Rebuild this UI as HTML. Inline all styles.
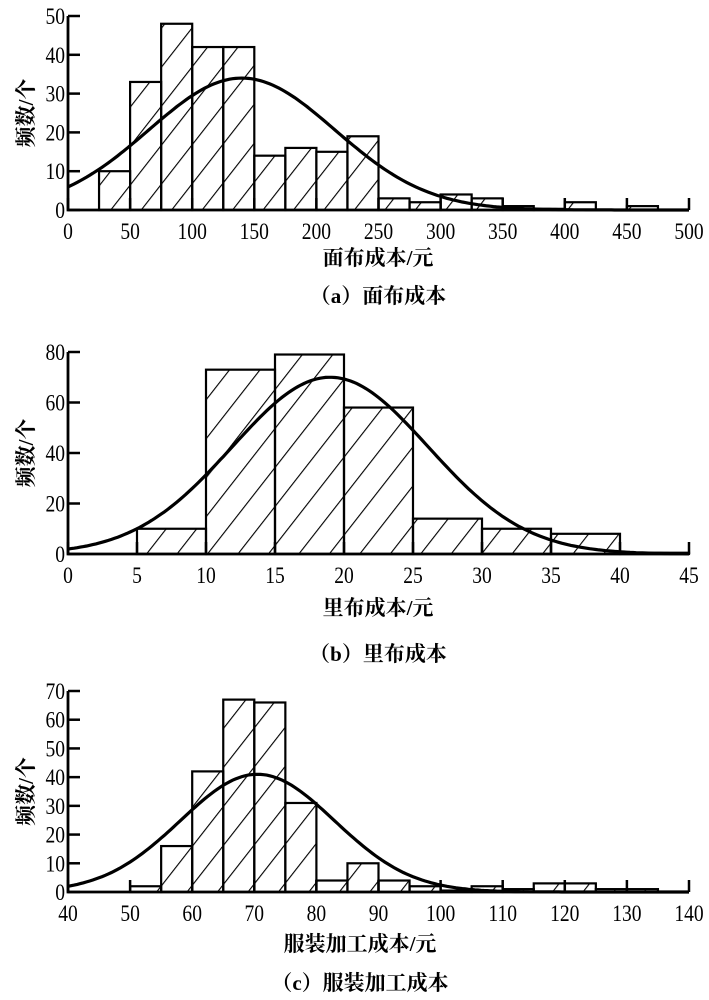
<!DOCTYPE html>
<html><head><meta charset="utf-8"><style>
body{margin:0;background:#fff}
svg{display:block}
text{font-family:"Liberation Serif","Noto Serif CJK SC",serif;fill:#000}
.cjk{font-family:"Liberation Serif","Noto Serif CJK SC","Noto Sans CJK SC",serif;font-weight:bold}
</style></head><body>
<svg id="chart" width="709" height="1000" viewBox="0 0 709 1000">
<defs>
<pattern id="hatch" patternUnits="userSpaceOnUse" width="30" height="24" patternTransform="rotate(-52)">
<line x1="0" y1="0" x2="30" y2="0" stroke="#000" stroke-width="2.2"/>
</pattern>
</defs>
</svg>
<script>
// Panel (a)
const aEdgesStart = [25,50,75,100,125,150,175,200,225,250,275,300,325,350,375,400,425,450,475];
const aCounts = [10,33,48,42,42,14,16,15,19,3,2,4,3,1,0.3,2,0,1,0];
const aXTicks = [0,50,100,150,200,250,300,350,400,450,500];
const aYTicks = [0,10,20,30,40,50];
const aCurve = [140,75,34]; // mean, sd, peak
// Panel (b)
const bEdgesStart = [5,10,15,20,25,30,35,40];
const bCounts = [10,73,79,58,14,10,8,0.5];
const bXTicks = [0,5,10,15,20,25,30,35,40,45];
const bYTicks = [0,20,40,60,80];
const bCurve = [19,7.1,70];
// Panel (c)
const cEdgesStart = [50,55,60,65,70,75,80,85,90,95,100,105,110,115,120,125,130];
const cCounts = [2,16,42,67,66,31,4,10,4,2,0.5,2,1,3,3,1,1];
const cXTicks = [40,50,60,70,80,90,100,110,120,130,140];
const cYTicks = [0,10,20,30,40,50,60,70];
const cCurve = [70.5,12.4,41];

const NS="http://www.w3.org/2000/svg";
const svg=document.getElementById('chart');
function mk(t,a,p){const e=document.createElementNS(NS,t);for(const k in a)e.setAttribute(k,a[k]);(p||svg).appendChild(e);return e;}

function panel(id,opt){
  const g=mk('g',{});
  
  
  const X0=68,X1=689;
  const sx=v=>X0+(v-opt.xmin)/(opt.xmax-opt.xmin)*(X1-X0);
  const sy=v=>opt.y0+(v-opt.ymin)/(opt.ymax-opt.ymin)*(opt.ytop-opt.y0);
  opt.starts.forEach((s,i)=>{
    const x=sx(s),w=sx(s+opt.bw)-x,y=sy(opt.counts[i]),h=opt.y0-y;
    const r=mk('rect',{x:x,y:y,width:w,height:h,fill:'url(#hatch)',stroke:'#000','stroke-width':2.2},g);
    
    
  });
  let d='';
  for(let k=0;k<=200;k++){const v=opt.xmin+(opt.xmax-opt.xmin)*k/200;
    const yv=opt.curve[2]*Math.exp(-Math.pow(v-opt.curve[0],2)/(2*opt.curve[1]*opt.curve[1]));
    d+=(k?'L':'M')+sx(v).toFixed(1)+','+sy(yv).toFixed(1);}
  const c=mk('path',{d:d,fill:'none',stroke:'#000','stroke-width':3.2},g);
  
  
  const ax=mk('path',{d:`M${X0},${sy(opt.yTicks[opt.yTicks.length-1])}V${opt.y0}H${X1}`,fill:'none',stroke:'#000','stroke-width':2.8},g);
  
  
  opt.yTicks.forEach(t=>{
    mk('line',{x1:X0,x2:X0+12,y1:sy(t),y2:sy(t),stroke:'#000','stroke-width':2.5},g);
    const tx=mk('text',{x:X0-3,y:sy(t)+8,'text-anchor':'end','font-size':23,transform:`translate(${X0-3},0) scale(0.85,1) translate(${-(X0-3)},0)`},g);tx.textContent=t;
    
    
  });
  opt.xTicks.forEach(t=>{
    mk('line',{x1:sx(t),x2:sx(t),y1:opt.y0,y2:opt.y0-12,stroke:'#000','stroke-width':2.5},g);
    const tx=mk('text',{x:sx(t),y:opt.y0+29,'text-anchor':'middle','font-size':23,transform:`translate(${sx(t)},0) scale(0.85,1) translate(${-sx(t)},0)`},g);tx.textContent=t;
    
    
  });
  const yl=mk('text',{x:0,y:0,'text-anchor':'middle','font-size':21,'class':'cjk',transform:`translate(33,${(opt.y0+sy(opt.yTicks[opt.yTicks.length-1]))/2}) rotate(-90)`},g);
  yl.textContent='频数/个';
  
  
  const xl=mk('text',{x:opt.xlx,y:opt.xly,'text-anchor':'middle','font-size':21,'class':'cjk'},g);
  xl.textContent=opt.xtitle;
  
  
  const cp=mk('text',{x:opt.xlx,y:opt.cy,'text-anchor':'middle','font-size':21,'class':'cjk'},g);
  cp.textContent=opt.caption;
  
  
}
panel('a',{xmin:0,xmax:500,ymin:0,ymax:50,y0:210,ytop:16,bw:25,starts:aEdgesStart,counts:aCounts,xTicks:aXTicks,yTicks:aYTicks,curve:aCurve,xtitle:'面布成本/元',caption:'（a）面布成本',xlx:378,xly:265,cy:303});
panel('b',{xmin:0,xmax:45,ymin:0,ymax:80,y0:554,ytop:352,bw:5,starts:bEdgesStart,counts:bCounts,xTicks:bXTicks,yTicks:bYTicks,curve:bCurve,xtitle:'里布成本/元',caption:'（b）里布成本',xlx:378,xly:615,cy:661});
panel('c',{xmin:40,xmax:140,ymin:0,ymax:70,y0:892,ytop:691,bw:5,starts:cEdgesStart,counts:cCounts,xTicks:cXTicks,yTicks:cYTicks,curve:cCurve,xtitle:'服装加工成本/元',caption:'（c）服装加工成本',xlx:360,xly:951,cy:990});
</script>
</body></html>
